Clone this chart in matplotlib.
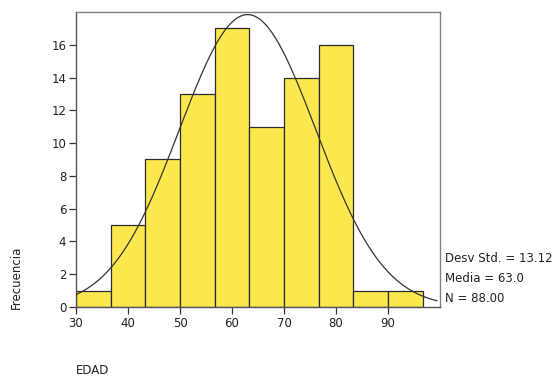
import numpy as np
import matplotlib
matplotlib.use("Agg")
import matplotlib.pyplot as plt

# Data
bin_edges = [30, 36.667, 43.333, 50, 56.667, 63.333, 70, 76.667, 83.333, 90, 96.667]
counts = [1, 5, 9, 13, 17, 11, 14, 16, 1, 1]
std_dev = 13.12
mean = 63.0
n_total = 88
x_ticks = [30, 40, 50, 60, 70, 80, 90]
y_ticks = [0, 2, 4, 6, 8, 10, 12, 14, 16]
stats_lines = ["Desv Std. = 13.12", "Media = 63.0", "N = 88.00"]

plt.rcParams['font.family'] = ['DejaVu Sans']
fig = plt.figure(figsize=(5.54, 3.79), dpi=100)
ax = fig.add_axes([0.1372, 0.19, 0.6570, 0.7785])

lefts = bin_edges[:-1]
widths = np.diff(bin_edges)
ax.bar(lefts, counts, width=widths, align='edge', color='#FCE84E',
       edgecolor='#2b2b2b', linewidth=0.9, zorder=2)

bw = widths[0]
xs = np.linspace(30, 99.4, 400)
ys = n_total * bw / (std_dev * np.sqrt(2 * np.pi)) * np.exp(-(xs - mean) ** 2 / (2 * std_dev ** 2))
ax.plot(xs, ys, color='#333333', linewidth=0.9, zorder=3)

ax.set_xlim(30, 100)
ax.set_ylim(0, 18)
ax.set_xticks(x_ticks)
ax.set_yticks(y_ticks)
ax.tick_params(direction='out', length=5, width=0.9, color='#333333',
               labelsize=8.5, labelcolor='#222222', pad=2)
for s in ax.spines.values():
    s.set_color('#808080')
    s.set_linewidth(1.0)
ax.spines['left'].set_color('#555555')
ax.spines['bottom'].set_color('#555555')

fig.text(445 / 554, 1 - 259 / 379, stats_lines[0], fontsize=8.5, color='#222222', va='center', ha='left')
fig.text(445 / 554, 1 - 279 / 379, stats_lines[1], fontsize=8.5, color='#222222', va='center', ha='left')
fig.text(445 / 554, 1 - 298 / 379, stats_lines[2], fontsize=8.5, color='#222222', va='center', ha='left')

fig.text(16 / 554, 1 - 277 / 379, "Frecuencia", rotation=90, fontsize=8.5, color='#222222', va='center', ha='center')
fig.text(76 / 554, 1 - 371 / 379, "EDAD", fontsize=8.5, color='#222222', va='center', ha='left')

fig.savefig("out.png", dpi=100)
